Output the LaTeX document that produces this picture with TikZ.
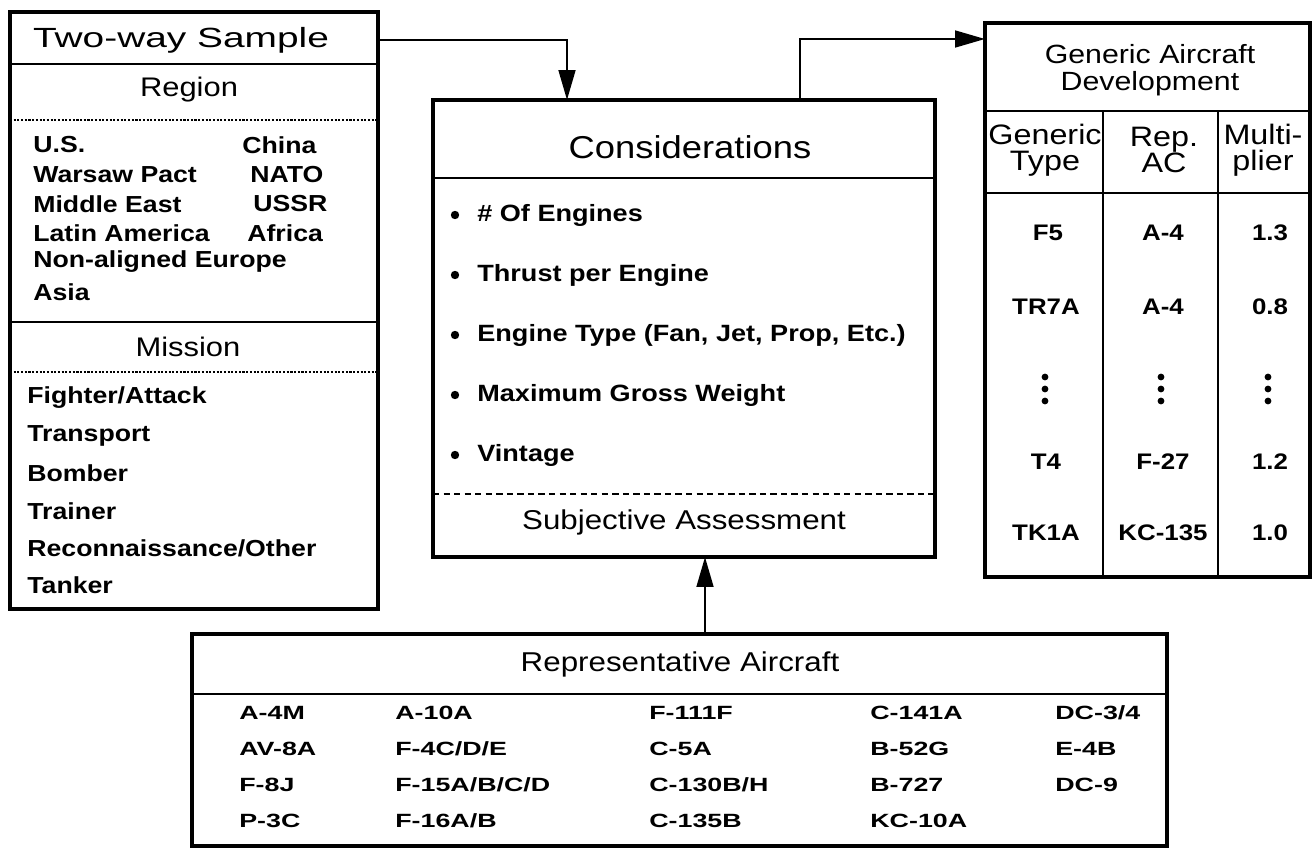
\documentclass[tikz,border=0pt]{standalone}
\usepackage{fontspec}
\setmainfont{Liberation Sans}[FakeStretch=1.15]
\newfontfamily\wideA{Liberation Sans}[FakeStretch=1.4]
\usetikzlibrary{arrows.meta,fit}
\begin{document}
\begin{tikzpicture}[x=0.02cm,y=-0.02cm,
  frame/.style={draw, line width=1.8pt, inner sep=0pt},
  rule/.style={line width=1.5pt},
  dotrule/.style={line width=0.9pt, dash pattern=on 1.2pt off 0.9pt},
  dashrule/.style={line width=1.3pt, dash pattern=on 3.6pt off 2.4pt},
  bigtitle/.style={font=\wideA\fontsize{15.8}{18}\selectfont, inner sep=0pt},
  hdr/.style={font=\fontsize{18}{20}\selectfont, inner sep=0pt},
  sub/.style={font=\fontsize{15.3}{17}\selectfont, inner sep=0pt},
  item/.style={font=\fontsize{13.2}{15}\selectfont\bfseries, anchor=west, inner sep=0pt},
  bitem/.style={font=\fontsize{13.4}{15}\selectfont\bfseries, anchor=west, inner sep=0pt},
  gtitle/.style={font=\fontsize{15}{15.3}\selectfont, align=center, inner sep=0pt},
  ghead/.style={font=\fontsize{16}{14.7}\selectfont, align=center, inner sep=0pt},
  cell/.style={font=\fontsize{12.8}{14}\selectfont\bfseries, inner sep=0pt},
  ac/.style={font=\wideA\fontsize{10.9}{12}\selectfont\bfseries, anchor=west, inner sep=0pt},
  flow/.style={line width=1.4pt, -{Triangle[length=17pt,width=9.5pt]}},
]
\useasboundingbox (0,0) rectangle (1312,848);

% ---------- Two-way sample box ----------
\coordinate (L1) at (10,12); \coordinate (L2) at (378,609);
\node[frame, fit=(L1)(L2)] (samplebox) {};
\draw[rule] (10,64) -- (378,64);
\draw[dotrule] (10,120) -- (378,120);
\draw[rule] (10,322) -- (378,322);
\draw[dotrule] (10,372) -- (378,372);
\node[bigtitle] (twoway) at (181,40) {Two-way Sample};
\node[sub] (region) at (189,90) {Region};
\node[item] (r1) at (33,145) {U.S.};
\node[item] (r2) at (33,175) {Warsaw Pact};
\node[item] (r3) at (33,204) {Middle East};
\node[item] (r4) at (33,233) {Latin America};
\node[item] (r5) at (33,262) {Non-aligned Europe};
\node[item] (r6) at (33,292) {Asia};
\node[item] (r7) at (242,145) {China};
\node[item] (r8) at (250,175) {NATO};
\node[item] (r9) at (253,204) {USSR};
\node[item] (r10) at (247,233) {Africa};
\node[sub] (mission) at (188,347) {Mission};
\node[item] (m1) at (27,398) {Fighter/Attack};
\node[item] (m2) at (27,436) {Transport};
\node[item] (m3) at (27,473) {Bomber};
\node[item] (m4) at (27,511) {Trainer};
\node[item] (m5) at (27,548) {Reconnaissance/Other};
\node[item] (m6) at (27,585) {Tanker};

% ---------- Considerations box ----------
\coordinate (C1) at (433,100); \coordinate (C2) at (935,557);
\node[frame, fit=(C1)(C2)] (cons) {};
\draw[rule] (433,178) -- (935,178);
\draw[dashrule] (433,494) -- (935,494);
\node[hdr] (constitle) at (690,147) {Considerations};
\foreach \t [count=\i] in {\# Of Engines, Thrust per Engine, {Engine Type (Fan, Jet, Prop, Etc.)}, Maximum Gross Weight, Vintage}{
  \fill (455,{155+60*\i}) circle (4.2);
  \node[bitem] (c\i) at (477,{155+60*\i}) {\t};
}
\node[sub, font=\fontsize{15.5}{17}\selectfont] (subj) at (684,522) {Subjective Assessment};

% ---------- Generic aircraft box ----------
\coordinate (G1) at (985,23); \coordinate (G2) at (1310,577);
\node[frame, fit=(G1)(G2)] (gen) {};
\draw[rule] (985,111) -- (1310,111);
\draw[rule] (985,193) -- (1310,193);
\draw[rule] (1103,111) -- (1103,577);
\draw[rule] (1218,111) -- (1218,577);
\node[gtitle] (gt) at (1150,70) {Generic Aircraft\\Development};
\node[ghead] (h1) at (1045,150) {Generic\\Type};
\node[ghead] (h2) at (1164,150) {Rep.\\AC};
\node[ghead] (h3) at (1263,150) {Multi-\\plier};
\node[cell] (g11) at (1048,233) {F5};
\node[cell] (g12) at (1163,233) {A-4};
\node[cell] (g13) at (1270,233) {1.3};
\node[cell] (g21) at (1046,307) {TR7A};
\node[cell] (g22) at (1163,307) {A-4};
\node[cell] (g23) at (1270,307) {0.8};
\foreach \cx in {1045,1161,1268}{
  \foreach \cy in {377,389,401}{ \fill (\cx,\cy) circle (3.4); }
}
\node[cell] (g41) at (1046,462) {T4};
\node[cell] (g42) at (1163,462) {F-27};
\node[cell] (g43) at (1270,462) {1.2};
\node[cell] (g51) at (1046,533) {TK1A};
\node[cell] (g52) at (1163,533) {KC-135};
\node[cell] (g53) at (1270,533) {1.0};

% ---------- Representative aircraft box ----------
\coordinate (R1) at (192,634); \coordinate (R2) at (1167,846);
\node[frame, fit=(R1)(R2)] (rep) {};
\draw[rule] (192,694) -- (1167,694);
\node[sub, font=\fontsize{15.5}{17}\selectfont] (reptitle) at (680,664) {Representative Aircraft};
\node[ac] (a11) at (239,713) {A-4M};
\node[ac] (a12) at (239,749) {AV-8A};
\node[ac] (a13) at (239,785) {F-8J};
\node[ac] (a14) at (239,821) {P-3C};
\node[ac] (a21) at (395,713) {A-10A};
\node[ac] (a22) at (395,749) {F-4C/D/E};
\node[ac] (a23) at (395,785) {F-15A/B/C/D};
\node[ac] (a24) at (395,821) {F-16A/B};
\node[ac] (a31) at (649,713) {F-111F};
\node[ac] (a32) at (649,749) {C-5A};
\node[ac] (a33) at (649,785) {C-130B/H};
\node[ac] (a34) at (649,821) {C-135B};
\node[ac] (a41) at (870,713) {C-141A};
\node[ac] (a42) at (870,749) {B-52G};
\node[ac] (a43) at (870,785) {B-727};
\node[ac] (a44) at (870,821) {KC-10A};
\node[ac] (a51) at (1055,713) {DC-3/4};
\node[ac] (a52) at (1055,749) {E-4B};
\node[ac] (a53) at (1055,785) {DC-9};

% ---------- connectors ----------
\coordinate (consin) at (567,100);
\draw[flow] (samplebox.east |- twoway) -| (consin);
\coordinate (consout) at (800,100);
\coordinate (genin) at (985,39);
\draw[flow] (consout) |- (genin);
\coordinate (repout) at (705,634);
\coordinate (consbot) at (705,557);
\draw[flow] (repout) -- (consbot);
\end{tikzpicture}
\end{document}
